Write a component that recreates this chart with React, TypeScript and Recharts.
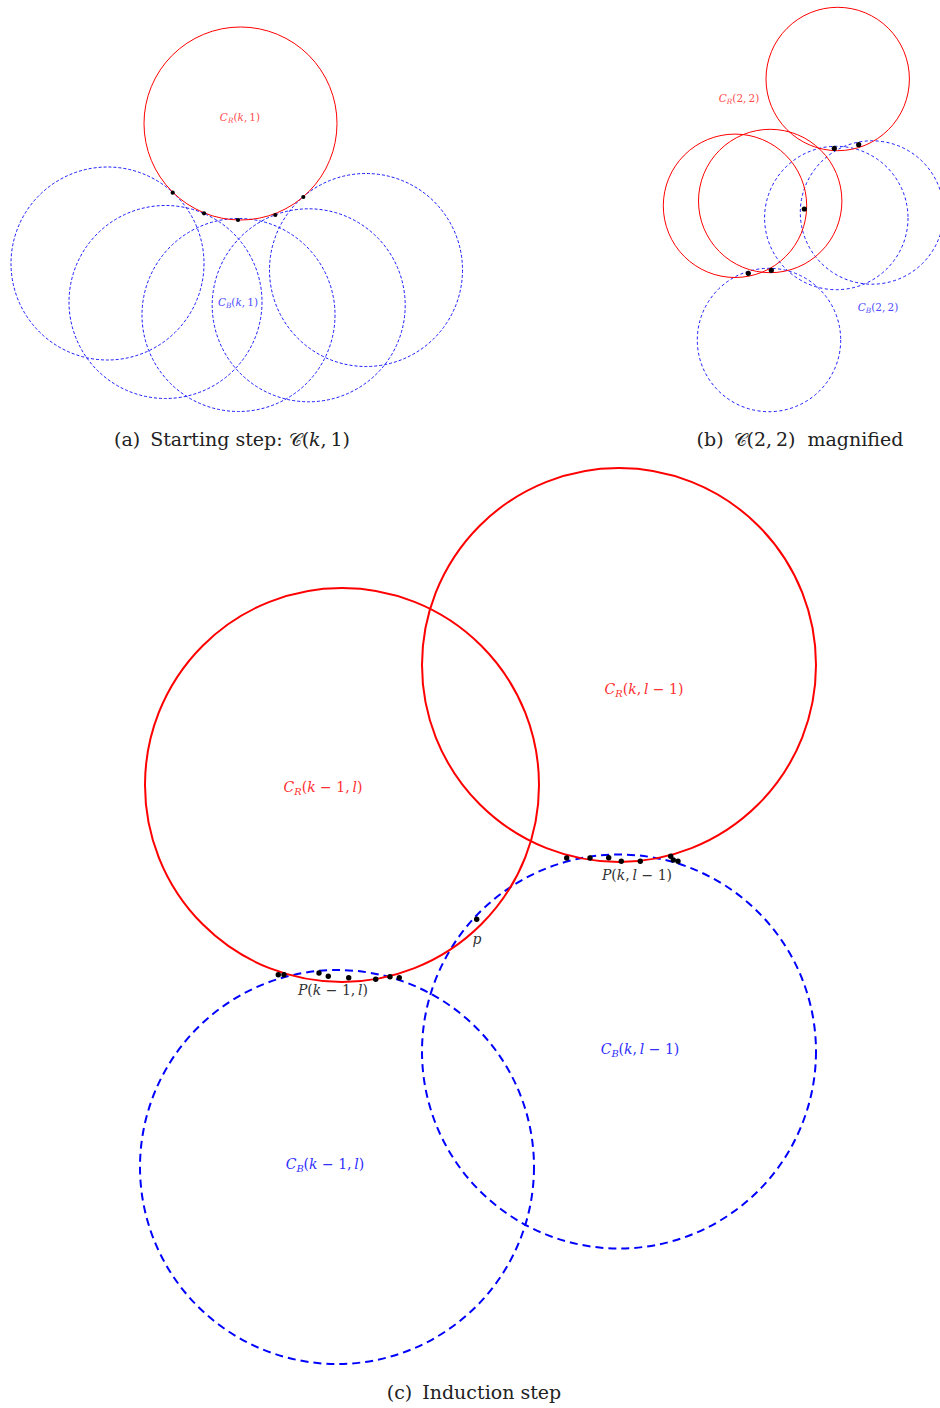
import React from 'react';
import { ScatterChart, Scatter, XAxis, YAxis } from 'recharts';

document.body.style.margin = '0';

const W = 940;
const H = 1408;
const X_DOMAIN: [number, number] = [0, 940];
const Y_DOMAIN: [number, number] = [0, 1408];
const SCALE = W / (X_DOMAIN[1] - X_DOMAIN[0]);
const FONT = "'DejaVu Serif', 'Liberation Serif', serif";

// (a) starting step
const redCirclesA = [{ x: 240.5, y: 123.5, r: 96.5 }];
const blueCirclesA = [
  { x: 107.5, y: 263.5, r: 96.5 },
  { x: 165.5, y: 302, r: 96.5 },
  { x: 238.5, y: 315, r: 96.5 },
  { x: 308.7, y: 305.3, r: 96.5 },
  { x: 366, y: 270, r: 96.5 },
];
const pointsA = [
  { x: 172.7, y: 192.7 },
  { x: 204, y: 213.3 },
  { x: 238, y: 220 },
  { x: 275.3, y: 215 },
  { x: 303.3, y: 197 },
];

// (b) C(2,2) magnified
const redCirclesB = [
  { x: 837.7, y: 79, r: 71.7 },
  { x: 735, y: 205.8, r: 71.7 },
  { x: 770.2, y: 201, r: 71.7 },
];
const blueCirclesB = [
  { x: 836.3, y: 218, r: 71.7 },
  { x: 872, y: 212.5, r: 71.7 },
  { x: 769, y: 340, r: 71.7 },
];
const pointsB = [
  { x: 834.3, y: 148.3 },
  { x: 858.7, y: 144.7 },
  { x: 804.3, y: 209 },
  { x: 748.3, y: 273.3 },
  { x: 771.3, y: 270.3 },
];

// (c) induction step
const redCirclesC = [
  { x: 342, y: 785, r: 197 },
  { x: 619, y: 665, r: 197 },
];
const blueCirclesC = [
  { x: 337, y: 1167, r: 197 },
  { x: 619, y: 1051.5, r: 197 },
];
const pointsC = [
  { x: 278.3, y: 974.7 },
  { x: 284, y: 974.7 },
  { x: 319, y: 973 },
  { x: 328.3, y: 976.3 },
  { x: 348.7, y: 977.7 },
  { x: 375.7, y: 979.3 },
  { x: 390, y: 976.7 },
  { x: 399.3, y: 977.7 },
  { x: 476.7, y: 919.3 },
  { x: 566.7, y: 858 },
  { x: 590, y: 858 },
  { x: 608.7, y: 857.7 },
  { x: 621.3, y: 861.3 },
  { x: 640.3, y: 861.3 },
  { x: 670.7, y: 856.3 },
  { x: 673.3, y: 860 },
  { x: 678, y: 861.3 },
];

// math labels: base, subscript, argument
const labels = [
  { x: 240, y: 117, base: 'C', sub: 'R', args: '(k,1)', size: 10.5, color: '#ff4d4d' },
  { x: 238, y: 302, base: 'C', sub: 'B', args: '(k,1)', size: 10.5, color: '#4d4dff' },
  { x: 739, y: 98, base: 'C', sub: 'R', args: '(2,2)', size: 10.5, color: '#ff4d4d' },
  { x: 878, y: 307, base: 'C', sub: 'B', args: '(2,2)', size: 10.5, color: '#4d4dff' },
  { x: 323, y: 787, base: 'C', sub: 'R', args: '(k − 1,l)', size: 14, color: '#ff3030' },
  { x: 644, y: 689, base: 'C', sub: 'R', args: '(k,l − 1)', size: 14, color: '#ff3030' },
  { x: 640, y: 1049, base: 'C', sub: 'B', args: '(k,l − 1)', size: 14, color: '#3030ff' },
  { x: 325, y: 1164, base: 'C', sub: 'B', args: '(k − 1,l)', size: 14, color: '#3030ff' },
  { x: 333, y: 990, base: 'P', sub: '', args: '(k − 1,l)', size: 14, color: '#333333' },
  { x: 637, y: 875, base: 'P', sub: '', args: '(k,l − 1)', size: 14, color: '#333333' },
  { x: 477, y: 939, base: 'p', sub: '', args: '', size: 14, color: '#333333' },
];

const captions = [
  { x: 232, y: 439, tag: '(a)', text: 'Starting step: ', script: '𝒞', args: '(k,1)', tail: '' },
  { x: 800, y: 439, tag: '(b)', text: '', script: '𝒞', args: '(2,2)', tail: ' magnified' },
  { x: 474, y: 1392, tag: '(c)', text: 'Induction step', script: '', args: '', tail: '' },
];

const mathChars = (s: string, key: string) =>
  s.split('').map((ch, i) => (
    <tspan
      key={key + i}
      fontStyle={/[a-zA-Z]/.test(ch) ? 'italic' : 'normal'}
      dx={s[i - 1] === ',' ? '0.2em' : 0}
    >
      {ch}
    </tspan>
  ));

const ring = (stroke: string, width: number, dash?: string) => (props: any) => {
  if (props.cx == null || props.cy == null) return <g />;
  return (
    <circle
      cx={props.cx}
      cy={props.cy}
      r={props.payload.r * SCALE}
      fill="none"
      stroke={stroke}
      strokeWidth={width}
      strokeDasharray={dash}
    />
  );
};

const dot = (radius: number) => (props: any) => {
  if (props.cx == null) return <g />;
  return <circle cx={props.cx} cy={props.cy} r={radius} fill="#000" />;
};

const mathLabel = (props: any) => {
  if (props.cx == null) return <g />;
  const p = props.payload;
  const s = p.size;
  return (
    <text
      x={props.cx}
      y={props.cy + s * 0.35}
      textAnchor="middle"
      fontFamily={FONT}
      fontSize={s}
      fill={p.color}
    >
      <tspan fontStyle="italic">{p.base}</tspan>
      {p.sub ? (
        <tspan fontStyle="italic" fontSize={s * 0.7} dy={s * 0.22}>
          {p.sub}
        </tspan>
      ) : null}
      <tspan dy={p.sub ? -s * 0.22 : 0}>{mathChars(p.args, 'a')}</tspan>
    </text>
  );
};

const caption = (props: any) => {
  if (props.cx == null) return <g />;
  const p = props.payload;
  return (
    <text
      x={props.cx}
      y={props.cy + 7}
      textAnchor="middle"
      fontFamily={FONT}
      fontSize={19}
      fill="#222"
    >
      <tspan>{p.tag}</tspan>
      {p.text ? <tspan dx={10}>{p.text}</tspan> : null}
      {p.script ? (
        <tspan dx={p.text ? 0 : 10} fontSize={18}>
          {p.script}
        </tspan>
      ) : null}
      {mathChars(p.args, 'c')}
      {p.tail ? <tspan dx={6}>{p.tail}</tspan> : null}
    </text>
  );
};

export default function App() {
  return (
    <div style={{ width: W, height: H, background: '#fff' }}>
      <ScatterChart width={W} height={H} margin={{ top: 0, right: 0, bottom: 0, left: 0 }}>
        <XAxis type="number" dataKey="x" domain={X_DOMAIN} hide allowDataOverflow />
        <YAxis type="number" dataKey="y" domain={Y_DOMAIN} reversed hide allowDataOverflow />

        <Scatter data={blueCirclesA} shape={ring('#0000ff', 0.9, '3 2')} isAnimationActive={false} />
        <Scatter data={redCirclesA} shape={ring('#ff0000', 1)} isAnimationActive={false} />
        <Scatter data={pointsA} shape={dot(2.1)} isAnimationActive={false} />

        <Scatter data={blueCirclesB} shape={ring('#0000ff', 0.9, '3 2.5')} isAnimationActive={false} />
        <Scatter data={redCirclesB} shape={ring('#ff0000', 1)} isAnimationActive={false} />
        <Scatter data={pointsB} shape={dot(2.6)} isAnimationActive={false} />

        <Scatter data={blueCirclesC} shape={ring('#0000ff', 2, '8 5')} isAnimationActive={false} />
        <Scatter data={redCirclesC} shape={ring('#ff0000', 2)} isAnimationActive={false} />
        <Scatter data={pointsC} shape={dot(2.7)} isAnimationActive={false} />

        <Scatter data={labels} shape={mathLabel} isAnimationActive={false} />
        <Scatter data={captions} shape={caption} isAnimationActive={false} />
      </ScatterChart>
    </div>
  );
}
